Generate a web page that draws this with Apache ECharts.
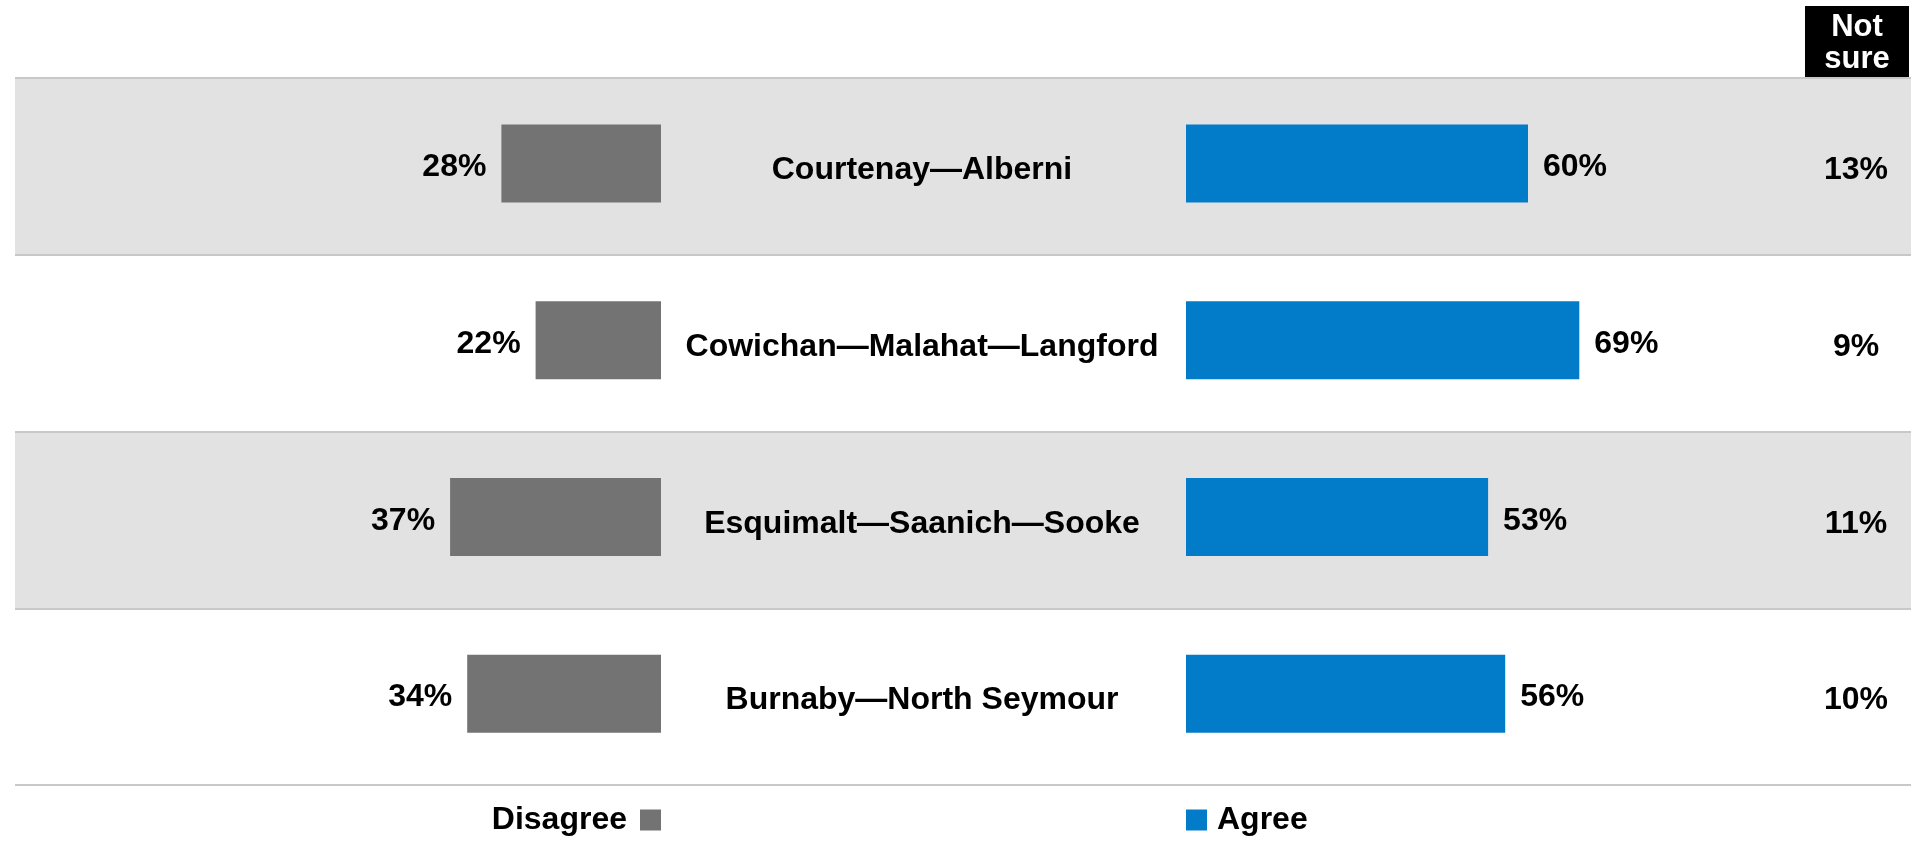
<!DOCTYPE html>
<html>
<head>
<meta charset="utf-8">
<script src="https://cdn.jsdelivr.net/npm/echarts@6/dist/echarts.min.js"></script>
<style>
  html, body { margin: 0; padding: 0; background: #fff; }
  #main { width: 1911px; height: 843px; }
</style>
</head>
<body>
<div id="main"></div>
<script>
// data
var categories = ['Courtenay—Alberni', 'Cowichan—Malahat—Langford', 'Esquimalt—Saanich—Sooke', 'Burnaby—North Seymour'];
var disagree = [28, 22, 37, 34];
var agree = [60, 69, 53, 56];
var notSure = [13, 9, 11, 10];

var FONT = '"Liberation Sans", Arial, sans-serif';
var GREY = '#737373';
var BLUE = '#027bc8';

var myChart = echarts.init(document.getElementById('main'));

var option = {
    animation: false,
    textStyle: { fontFamily: FONT },
    graphic: [
        {
            type: 'group',
            left: 1805,
            top: 6,
            children: [
                { type: 'rect', shape: { x: 0, y: 0, width: 104, height: 72 }, style: { fill: '#000' } },
                {
                    type: 'text',
                    style: {
                        text: 'Not\nsure', x: 52, y: 37, align: 'center', verticalAlign: 'middle',
                        fill: '#fff', fontSize: 31, fontWeight: 'bold', fontFamily: FONT, lineHeight: 32
                    }
                }
            ]
        }
    ],
    legend: [
        {
            data: ['Disagree'],
            right: 1250,
            top: 804,
            padding: 0,
            align: 'right',
            icon: 'rect',
            itemWidth: 21,
            itemHeight: 21,
            textStyle: { fontSize: 32, fontWeight: 'bold', color: '#000', fontFamily: FONT, padding: [0, 8, 0, 0] }
        },
        {
            data: ['Agree'],
            left: 1186,
            top: 804,
            padding: 0,
            icon: 'rect',
            itemWidth: 21,
            itemHeight: 21,
            textStyle: { fontSize: 32, fontWeight: 'bold', color: '#000', fontFamily: FONT, padding: [0, 0, 0, 5] }
        }
    ],
    grid: [
        { left: 15, right: 0, top: 78, bottom: 58 },
        { left: 91, width: 570, top: 75, bottom: 61 },
        { left: 1186, width: 570, top: 75, bottom: 61 },
        { left: 1186, width: 570, top: 82, bottom: 54 }
    ],
    xAxis: [
        { gridIndex: 0, type: 'value', min: 0, max: 1, show: false },
        { gridIndex: 1, type: 'value', min: 0, max: 100, inverse: true, show: false },
        { gridIndex: 2, type: 'value', min: 0, max: 100, show: false },
        { gridIndex: 3, type: 'value', min: 0, max: 100, show: false }
    ],
    yAxis: [
        {
            gridIndex: 0, type: 'category', data: categories, inverse: true,
            axisLine: { show: false }, axisTick: { show: false }, axisLabel: { show: false },
            splitLine: { show: true, lineStyle: { color: '#c8c8c8', width: 2 } },
            splitArea: { show: true, areaStyle: { color: ['#e2e2e2', '#ffffff'] } }
        },
        { gridIndex: 1, type: 'category', data: categories, inverse: true, show: false },
        { gridIndex: 2, type: 'category', data: categories, inverse: true, show: false },
        {
            gridIndex: 3, type: 'category', data: categories, inverse: true,
            axisLine: { show: false }, axisTick: { show: false }, splitLine: { show: false },
            axisLabel: { margin: 264, align: 'center', fontSize: 32, fontWeight: 'bold', color: '#000', fontFamily: FONT }
        },
        {
            gridIndex: 3, type: 'category', position: 'right', inverse: true,
            data: notSure.map(function (v) { return v + '%'; }),
            axisLine: { show: false }, axisTick: { show: false }, splitLine: { show: false },
            axisLabel: { margin: 100, align: 'center', fontSize: 32, fontWeight: 'bold', color: '#000', fontFamily: FONT }
        }
    ],
    series: [
        {
            name: 'Disagree',
            type: 'bar',
            xAxisIndex: 1,
            yAxisIndex: 1,
            barWidth: 78,
            data: disagree,
            itemStyle: { color: GREY },
            label: {
                show: true, position: 'left', distance: 15, formatter: '{c}%',
                fontSize: 32, fontWeight: 'bold', color: '#000', fontFamily: FONT,
                offset: [0, 4]
            }
        },
        {
            name: 'Agree',
            type: 'bar',
            xAxisIndex: 2,
            yAxisIndex: 2,
            barWidth: 78,
            data: agree,
            itemStyle: { color: BLUE },
            label: {
                show: true, position: 'right', distance: 15, formatter: '{c}%',
                fontSize: 32, fontWeight: 'bold', color: '#000', fontFamily: FONT,
                offset: [0, 4]
            }
        }
    ]
};

myChart.setOption(option);
</script>
</body>
</html>
